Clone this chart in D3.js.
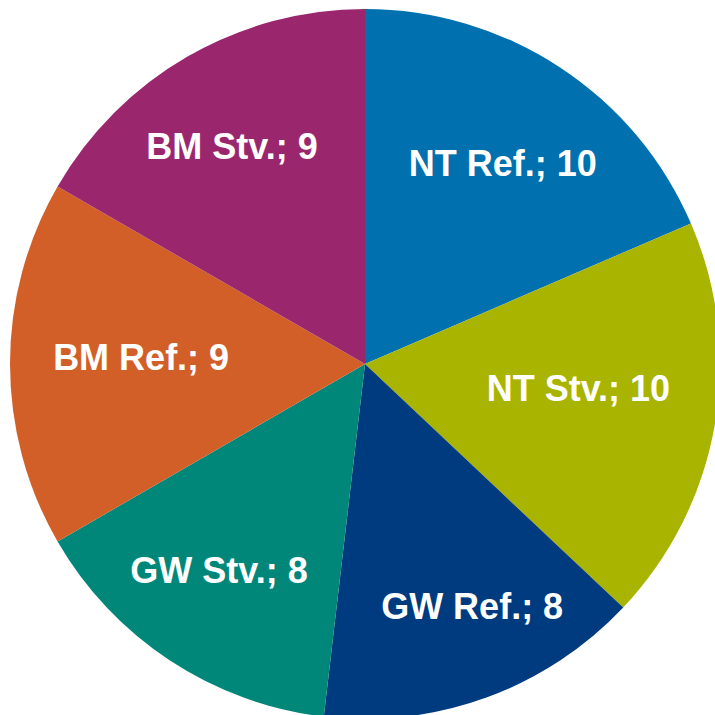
<!DOCTYPE html>
<html>
<head>
<meta charset="utf-8">
<script src="https://cdn.jsdelivr.net/npm/d3@7"></script>
<style>
html,body{margin:0;padding:0;background:#fff;overflow:hidden;}
</style>
</head>
<body>
<svg id="chart" width="715" height="715"></svg>
<script>
const categories = ["NT Ref.", "NT Stv.", "GW Ref.", "GW Stv.", "BM Ref.", "BM Stv."];
const values = [10, 10, 8, 8, 9, 9];
const colors = ["#0070AE", "#A8B400", "#003A7F", "#00877A", "#D35F28", "#9A276D"];
// label placement (layout only): distance as fraction of radius, angular shift in degrees from slice middle
const labelRadius = [0.686, 0.605, 0.745, 0.711, 0.631, 0.719];
const labelShift = [1.1, -3.6, -3.9, 2.0, 1.9, -1.4];

const cx = 365, cy = 364, R = 355;
const svg = d3.select("#chart");
const g = svg.append("g").attr("transform", `translate(${cx},${cy})`);

const data = categories.map((c, i) => ({cat: c, value: values[i], i}));
const pie = d3.pie().value(d => d.value).sort(null);
const arcs = pie(data);
const arc = d3.arc().innerRadius(0).outerRadius(R);

g.selectAll("path.slice").data(arcs).enter().append("path")
  .attr("class", "slice")
  .attr("d", arc)
  .attr("fill", d => colors[d.data.i])
  .attr("stroke", "none");

function labelAngle(d) {
  return (d.startAngle + d.endAngle) / 2 + labelShift[d.data.i] * Math.PI / 180;
}

g.selectAll("text.lbl").data(arcs).enter().append("text")
  .attr("class", "lbl")
  .attr("x", d => Math.sin(labelAngle(d)) * R * labelRadius[d.data.i])
  .attr("y", d => -Math.cos(labelAngle(d)) * R * labelRadius[d.data.i])
  .attr("text-anchor", "middle")
  .attr("dy", "0.36em")
  .attr("fill", "#fff")
  .attr("font-family", "Liberation Sans, Arial, sans-serif")
  .attr("font-weight", "bold")
  .attr("font-size", "36px")
  .text(d => `${d.data.cat}; ${d.data.value}`);
</script>
</body>
</html>
